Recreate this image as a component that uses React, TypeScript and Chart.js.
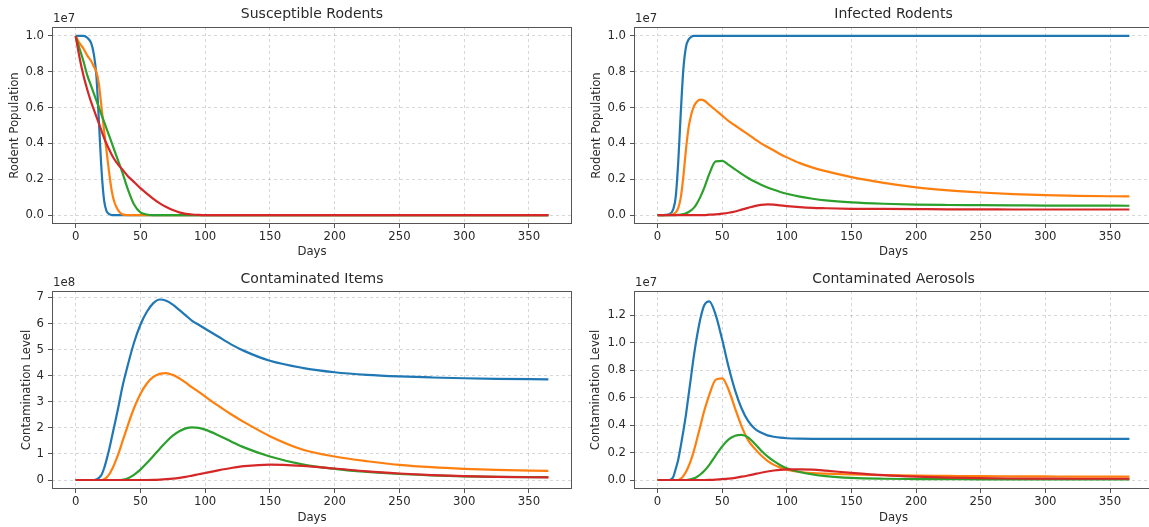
import React, { useEffect, useRef } from "react";
import { Chart, registerables } from "chart.js";

Chart.register(...registerables);

// ---------------- data ----------------
const DAYS = [0, 3, 6, 9, 12, 14, 16, 18, 20, 22, 24, 26, 28, 30, 33, 36, 40, 45, 50, 55, 60, 65, 70, 75, 80, 85, 90, 95, 100, 110, 120, 130, 150, 175, 200, 225, 250, 275, 300, 325, 365];
const X_TICKS = [0, 50, 100, 150, 200, 250, 300, 350];

// Susceptible rodents (x 1e7)
const S_BLUE = [1.0, 1.0, 1.0, 0.99, 0.96, 0.9, 0.78, 0.52, 0.25, 0.08, 0.02, 0.005, 0, 0, 0, 0, 0, 0, 0, 0, 0, 0, 0, 0, 0, 0, 0, 0, 0, 0, 0, 0, 0, 0, 0, 0, 0, 0, 0, 0, 0];
const S_ORANGE = [1.0, 0.96, 0.93, 0.89, 0.86, 0.83, 0.8, 0.73, 0.6, 0.47, 0.35, 0.23, 0.13, 0.07, 0.025, 0.005, 0, 0, 0, 0, 0, 0, 0, 0, 0, 0, 0, 0, 0, 0, 0, 0, 0, 0, 0, 0, 0, 0, 0, 0, 0];
const S_GREEN = [1.0, 0.93, 0.86, 0.78, 0.72, 0.68, 0.64, 0.6, 0.56, 0.52, 0.48, 0.44, 0.4, 0.36, 0.3, 0.24, 0.15, 0.06, 0.015, 0.003, 0, 0, 0, 0, 0, 0, 0, 0, 0, 0, 0, 0, 0, 0, 0, 0, 0, 0, 0, 0, 0];
const S_RED = [1.0, 0.88, 0.78, 0.7, 0.63, 0.59, 0.55, 0.51, 0.47, 0.43, 0.395, 0.365, 0.335, 0.31, 0.28, 0.255, 0.22, 0.185, 0.15, 0.12, 0.09, 0.065, 0.045, 0.028, 0.015, 0.007, 0.003, 0.001, 0, 0, 0, 0, 0, 0, 0, 0, 0, 0, 0, 0, 0];

// Infected rodents (x 1e7)
const I_BLUE = [0, 0, 0.001, 0.005, 0.03, 0.1, 0.3, 0.58, 0.82, 0.94, 0.98, 0.995, 1.0, 1.0, 1.0, 1.0, 1.0, 1.0, 1.0, 1.0, 1.0, 1.0, 1.0, 1.0, 1.0, 1.0, 1.0, 1.0, 1.0, 1.0, 1.0, 1.0, 1.0, 1.0, 1.0, 1.0, 1.0, 1.0, 1.0, 1.0, 1.0];
const I_ORANGE = [0, 0, 0, 0.001, 0.005, 0.015, 0.04, 0.1, 0.22, 0.37, 0.49, 0.56, 0.605, 0.63, 0.645, 0.64, 0.615, 0.585, 0.555, 0.525, 0.5, 0.475, 0.45, 0.425, 0.4, 0.38, 0.36, 0.34, 0.322, 0.29, 0.265, 0.245, 0.212, 0.18, 0.155, 0.138, 0.126, 0.117, 0.111, 0.107, 0.104];
const I_GREEN = [0, 0, 0, 0, 0, 0, 0.001, 0.002, 0.005, 0.01, 0.017, 0.027, 0.04, 0.06, 0.1, 0.15, 0.23, 0.3, 0.302, 0.28, 0.255, 0.23, 0.207, 0.187, 0.169, 0.154, 0.141, 0.129, 0.119, 0.103, 0.091, 0.082, 0.071, 0.063, 0.058, 0.056, 0.055, 0.054, 0.053, 0.053, 0.052];
const I_RED = [0, 0, 0, 0, 0, 0, 0, 0, 0, 0, 0, 0, 0, 0, 0, 0, 0.002, 0.004, 0.008, 0.013, 0.02, 0.03, 0.04, 0.05, 0.057, 0.06, 0.058, 0.054, 0.05, 0.044, 0.04, 0.038, 0.035, 0.034, 0.033, 0.032, 0.032, 0.031, 0.031, 0.031, 0.031];

// Contaminated items (x 1e8)
const C_BLUE = [0, 0, 0, 0, 0, 0, 0.02, 0.08, 0.2, 0.45, 0.8, 1.2, 1.65, 2.1, 2.8, 3.55, 4.35, 5.25, 5.95, 6.45, 6.78, 6.92, 6.87, 6.72, 6.52, 6.31, 6.1, 5.95, 5.8, 5.5, 5.2, 4.95, 4.57, 4.3, 4.13, 4.03, 3.97, 3.93, 3.9, 3.88, 3.86];
const C_ORANGE = [0, 0, 0, 0, 0, 0, 0, 0, 0, 0.03, 0.1, 0.22, 0.4, 0.62, 1.0, 1.45, 2.05, 2.75, 3.3, 3.7, 3.95, 4.07, 4.1, 4.03, 3.9, 3.73, 3.55, 3.38, 3.2, 2.85, 2.52, 2.22, 1.68, 1.17, 0.9, 0.72, 0.58, 0.49, 0.43, 0.39, 0.35];
const C_GREEN = [0, 0, 0, 0, 0, 0, 0, 0, 0, 0, 0, 0, 0, 0, 0, 0.01, 0.06, 0.2, 0.4, 0.65, 0.92, 1.2, 1.47, 1.7, 1.87, 1.98, 2.02, 2.0, 1.93, 1.72, 1.48, 1.25, 0.9, 0.6, 0.43, 0.31, 0.23, 0.18, 0.14, 0.12, 0.11];
const C_RED = [0, 0, 0, 0, 0, 0, 0, 0, 0, 0, 0, 0, 0, 0, 0, 0, 0, 0, 0, 0, 0.005, 0.015, 0.03, 0.05, 0.08, 0.12, 0.17, 0.22, 0.27, 0.37, 0.46, 0.53, 0.59, 0.54, 0.44, 0.33, 0.25, 0.19, 0.15, 0.12, 0.1];

// Contaminated aerosols (x 1e7)
const A_BLUE = [0, 0, 0, 0, 0.02, 0.08, 0.15, 0.25, 0.36, 0.48, 0.62, 0.76, 0.9, 1.02, 1.17, 1.27, 1.3, 1.2, 1.02, 0.82, 0.65, 0.52, 0.43, 0.375, 0.345, 0.325, 0.315, 0.308, 0.304, 0.301, 0.3, 0.3, 0.3, 0.3, 0.3, 0.3, 0.3, 0.3, 0.3, 0.3, 0.3];
const A_ORANGE = [0, 0, 0, 0, 0, 0, 0, 0.01, 0.03, 0.06, 0.1, 0.15, 0.21, 0.28, 0.39, 0.5, 0.62, 0.73, 0.74, 0.655, 0.52, 0.39, 0.29, 0.23, 0.18, 0.14, 0.11, 0.09, 0.075, 0.058, 0.05, 0.046, 0.04, 0.035, 0.032, 0.03, 0.028, 0.027, 0.026, 0.025, 0.025];
const A_GREEN = [0, 0, 0, 0, 0, 0, 0, 0, 0, 0, 0.003, 0.006, 0.012, 0.02, 0.04, 0.065, 0.11, 0.18, 0.245, 0.295, 0.322, 0.328, 0.31, 0.265, 0.215, 0.172, 0.137, 0.108, 0.086, 0.058, 0.04, 0.028, 0.015, 0.009, 0.007, 0.006, 0.005, 0.005, 0.005, 0.005, 0.005];
const A_RED = [0, 0, 0, 0, 0, 0, 0, 0, 0, 0, 0, 0, 0, 0, 0, 0, 0.001, 0.003, 0.006, 0.01, 0.016, 0.024, 0.033, 0.043, 0.053, 0.062, 0.069, 0.074, 0.077, 0.078, 0.075, 0.068, 0.052, 0.035, 0.024, 0.017, 0.013, 0.011, 0.01, 0.009, 0.009];

const Y_TICKS_RODENT = [0, 0.2, 0.4, 0.6, 0.8, 1.0];
const Y_TICKS_ITEMS = [0, 1, 2, 3, 4, 5, 6, 7];
const Y_TICKS_AEROSOL = [0, 0.2, 0.4, 0.6, 0.8, 1.0, 1.2];

// ---------------- style ----------------
const COLORS = ["#1f77b4", "#ff7f0e", "#2ca02c", "#d62728"];
const FONT = "'DejaVu Sans', sans-serif";
const TEXT = "#2a2a2a";
const GRID = "rgba(0,0,0,0.2)";
const SPINE = "#555";
const TICK_FONT = { family: FONT, size: 11.7, lineHeight: 1.2 };

const PANELS: any[] = [
  {
    id: "s", box: { left: 0, top: 0, width: 575, height: 262 },
    area: { left: 52, right: 572, bottom: 224 },
    titlePad: { top: 5.6, bottom: 4.6 }, yTitlePad: 8, xTitlePad: 3,
    title: "Susceptible Rodents", yLabel: "Rodent Population", exponent: "1e7", factor: 1e7,
    yMin: -0.05, yMax: 1.05, yTicks: Y_TICKS_RODENT, decimals: 1,
    series: [S_BLUE, S_ORANGE, S_GREEN, S_RED],
  },
  {
    id: "i", box: { left: 575, top: 0, width: 590, height: 262 },
    area: { left: 59, right: 578, bottom: 224 },
    titlePad: { top: 5.6, bottom: 4.6 }, yTitlePad: 15, xTitlePad: 3,
    title: "Infected Rodents", yLabel: "Rodent Population", exponent: "1e7", factor: 1e7,
    yMin: -0.05, yMax: 1.05, yTicks: Y_TICKS_RODENT, decimals: 1,
    series: [I_BLUE, I_ORANGE, I_GREEN, I_RED],
  },
  {
    id: "c", box: { left: 0, top: 262, width: 575, height: 265 },
    area: { left: 52, right: 572, bottom: 227 },
    titlePad: { top: 8.6, bottom: 3.6 }, yTitlePad: 19.5, xTitlePad: 2,
    title: "Contaminated Items", yLabel: "Contamination Level", exponent: "1e8", factor: 1e8,
    yMin: -0.345, yMax: 7.245, yTicks: Y_TICKS_ITEMS, decimals: 0,
    series: [C_BLUE, C_ORANGE, C_GREEN, C_RED],
  },
  {
    id: "a", box: { left: 575, top: 262, width: 590, height: 265 },
    area: { left: 59, right: 578, bottom: 227 },
    titlePad: { top: 8.6, bottom: 3.6 }, yTitlePad: 14.4, xTitlePad: 2,
    title: "Contaminated Aerosols", yLabel: "Contamination Level", exponent: "1e7", factor: 1e7,
    yMin: -0.0655, yMax: 1.3755, yTicks: Y_TICKS_AEROSOL, decimals: 1,
    series: [A_BLUE, A_ORANGE, A_GREEN, A_RED],
  },
];

function makeFramePlugin(exponent: string) {
  return {
    id: "frameAndExponent",
    afterDraw(chart: any) {
      const { ctx, chartArea: a } = chart;
      ctx.save();
      ctx.strokeStyle = SPINE;
      ctx.lineWidth = 1;
      ctx.strokeRect(a.left + 0.5, a.top + 0.5, a.right - a.left - 1, a.bottom - a.top - 1);
      ctx.fillStyle = TEXT;
      ctx.font = `11.7px ${FONT}`;
      ctx.textAlign = "left";
      ctx.textBaseline = "middle";
      ctx.fillText(exponent, a.left + 1, a.top - 8);
      ctx.restore();
    },
  };
}

function Panel({ p }: { p: any }) {
  const ref = useRef<HTMLCanvasElement | null>(null);
  useEffect(() => {
    if (!ref.current) return;
    const gridOpts = {
      color: GRID,
      lineWidth: 0.8,
      drawTicks: true,
      tickLength: 4,
      tickWidth: 1,
      tickColor: SPINE,
    };
    const chart = new Chart(ref.current, {
      type: "line",
      data: {
        datasets: p.series.map((vals: number[], i: number) => ({
          label: `series ${i + 1}`,
          data: DAYS.map((d, j) => ({ x: d, y: vals[j] * p.factor })),
          borderColor: COLORS[i],
          backgroundColor: COLORS[i],
          borderWidth: 2.2,
          pointRadius: 0,
          fill: false,
          cubicInterpolationMode: "monotone",
          order: 4 - i,
        })),
      },
      options: {
        animation: false,
        responsive: false,
        maintainAspectRatio: false,
        events: [],
        layout: { padding: { left: 0, top: 0, right: p.box.width - p.area.right, bottom: 0 } },
        plugins: {
          legend: { display: false },
          tooltip: { enabled: false },
          title: {
            display: true,
            text: p.title,
            fullSize: false,
            color: TEXT,
            font: { family: FONT, size: 14, weight: "normal", lineHeight: 1.2 },
            padding: p.titlePad,
          },
        },
        scales: {
          x: {
            type: "linear",
            min: -18.25,
            max: 383.25,
            bounds: "data",
            afterBuildTicks: (s: any) => {
              s.ticks = X_TICKS.map((v) => ({ value: v }));
            },
            afterFit: (s: any) => {
              s.height = p.box.height - p.area.bottom;
            },
            ticks: {
              color: TEXT,
              font: TICK_FONT,
              padding: 2,
              maxRotation: 0,
              autoSkip: false,
              callback: (v: any) => String(v),
            },
            grid: gridOpts,
            border: { display: false, dash: [3, 3] },
            title: {
              display: true,
              text: "Days",
              color: TEXT,
              font: TICK_FONT,
              padding: { top: 0, bottom: p.xTitlePad },
            },
          },
          y: {
            type: "linear",
            min: p.yMin * p.factor,
            max: p.yMax * p.factor,
            bounds: "data",
            afterBuildTicks: (s: any) => {
              s.ticks = p.yTicks.map((v: number) => ({ value: v * p.factor }));
            },
            afterFit: (s: any) => {
              s.width = p.area.left;
            },
            ticks: {
              color: TEXT,
              font: TICK_FONT,
              padding: 4,
              autoSkip: false,
              callback: (v: any) => (Number(v) / p.factor).toFixed(p.decimals),
            },
            grid: gridOpts,
            border: { display: false, dash: [3, 3] },
            title: {
              display: true,
              text: p.yLabel,
              color: TEXT,
              font: TICK_FONT,
              padding: { top: p.yTitlePad, bottom: 0 },
            },
          },
        },
      } as any,
      plugins: [makeFramePlugin(p.exponent)],
    } as any);
    return () => chart.destroy();
  }, [p]);
  return (
    <canvas
      ref={ref}
      width={p.box.width}
      height={p.box.height}
      style={{
        position: "absolute",
        left: p.box.left,
        top: p.box.top,
        width: p.box.width,
        height: p.box.height,
      }}
    />
  );
}

export default function App() {
  return (
    <div
      style={{
        position: "absolute",
        left: 0,
        top: 0,
        width: 1149,
        height: 527,
        overflow: "hidden",
        background: "#ffffff",
      }}
    >
      {PANELS.map((p) => (
        <Panel key={p.id} p={p} />
      ))}
    </div>
  );
}
